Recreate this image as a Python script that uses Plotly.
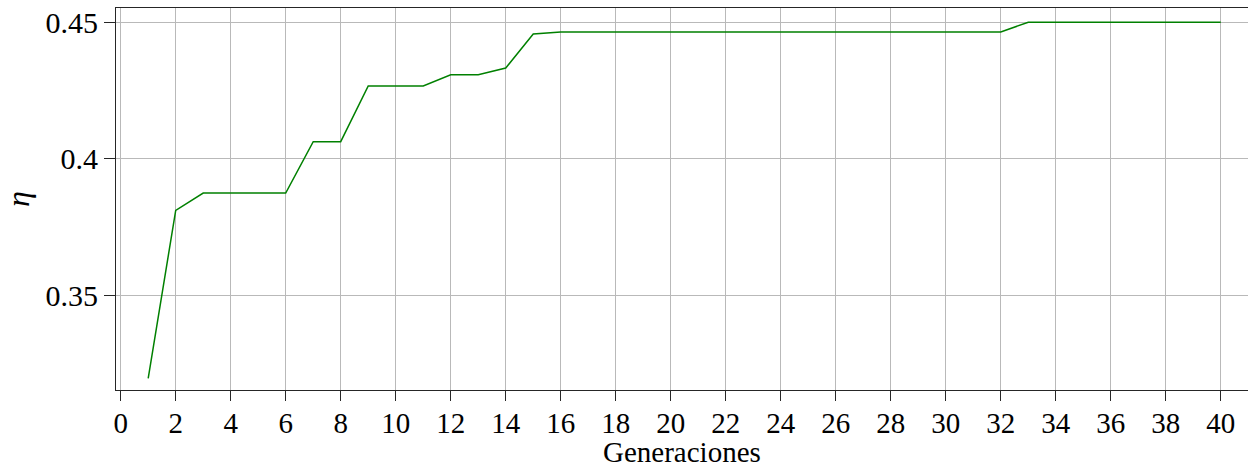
import plotly.graph_objects as go

# Best efficiency per generation of the genetic search
generaciones = list(range(1, 41))
eta = [
    0.3195, 0.3810, 0.3874, 0.3874, 0.3874, 0.3874, 0.4062, 0.4062,
    0.4266, 0.4266, 0.4266, 0.4307, 0.4307, 0.4332, 0.4457, 0.4464,
    0.4464, 0.4464, 0.4464, 0.4464, 0.4464, 0.4464, 0.4464, 0.4464,
    0.4464, 0.4464, 0.4464, 0.4464, 0.4464, 0.4464, 0.4464, 0.4464,
    0.4500, 0.4500, 0.4500, 0.4500, 0.4500, 0.4500, 0.4500, 0.4500,
]
x_ticks = list(range(0, 41, 2))
y_ticks = [0.35, 0.40, 0.45]
y_tick_text = ["0.35", "0.4", "0.45"]

FONT = "Liberation Serif"
AXIS = "#262626"
GRID = "#b9b9b9"

fig = go.Figure(
    go.Scatter(
        x=generaciones,
        y=eta,
        mode="lines",
        line=dict(color="#008000", width=1.5),
        showlegend=False,
    )
)

fig.update_layout(
    width=1248,
    height=469,
    margin=dict(l=116, r=0, t=8, b=79),
    paper_bgcolor="white",
    plot_bgcolor="white",
    font=dict(family=FONT, size=30, color="black"),
)

fig.update_xaxes(
    range=[-0.171, 40.99],
    tickmode="array",
    tickvals=x_ticks,
    ticks="outside",
    ticklen=10,
    tickwidth=1,
    tickcolor=AXIS,
    showline=True,
    linecolor=AXIS,
    linewidth=1,
    mirror=True,
    showgrid=True,
    gridcolor=GRID,
    gridwidth=1,
    zeroline=False,
    tickfont=dict(family=FONT, size=29),
    ticklabelstandoff=-3,
)

# x-axis label placed just under the tick labels
fig.add_annotation(
    text="Generaciones",
    xref="paper",
    yref="paper",
    x=0.5,
    y=-0.163,
    xanchor="center",
    yanchor="middle",
    showarrow=False,
    borderpad=0,
    font=dict(family=FONT, size=29, color="black"),
)

fig.update_yaxes(
    range=[0.3152, 0.4552],
    tickmode="array",
    tickvals=y_ticks,
    ticktext=y_tick_text,
    ticks="outside",
    ticklen=11,
    tickwidth=1,
    tickcolor=AXIS,
    showline=True,
    linecolor=AXIS,
    linewidth=1,
    mirror=False,
    showgrid=True,
    gridcolor=GRID,
    gridwidth=1,
    zeroline=False,
    tickfont=dict(family=FONT, size=30),
    title=dict(text="<i>η</i>", font=dict(family=FONT, size=32), standoff=12),
)

fig.write_html("out.html")
